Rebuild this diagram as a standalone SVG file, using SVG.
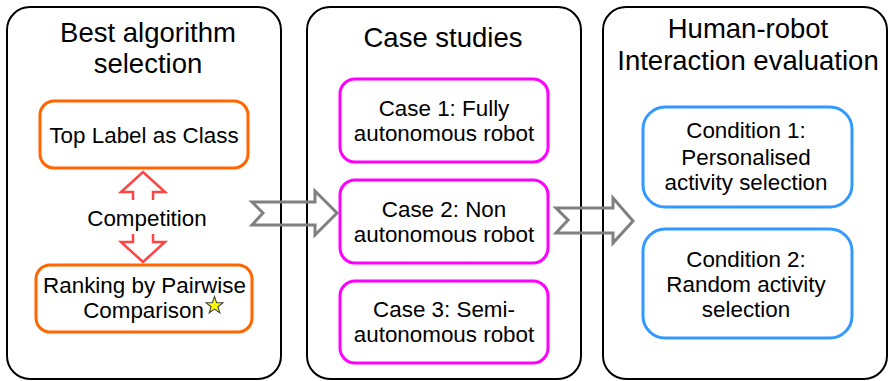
<svg xmlns="http://www.w3.org/2000/svg" width="889" height="381" viewBox="0 0 889 381">
<style>
text{font-family:"Liberation Sans",Arial,sans-serif;fill:#000;text-anchor:middle}
.title{font-size:27.5px}
.lbl{font-size:22.4px}
.panel{fill:#fff;stroke:#000;stroke-width:2}
.orange{fill:#fff;stroke:#ff6600;stroke-width:3}
.magenta{fill:#fff;stroke:#ff00ff;stroke-width:3}
.blue{fill:#fff;stroke:#3399ff;stroke-width:3}
.gray{fill:none;stroke:#808080;stroke-width:3;stroke-linejoin:miter}
.red{fill:none;stroke:#ff4444;stroke-width:2.5}
</style>
<rect width="889" height="381" fill="#fff"/>
<g id="panel-best">
<rect class="panel" x="7" y="7" width="274" height="372" rx="23"/>
<text class="title" x="148" y="42">Best algorithm</text>
<text class="title" x="148" y="73">selection</text>
</g>
<g id="panel-cases">
<rect class="panel" x="307" y="7" width="274" height="372" rx="23"/>
<text class="title" x="443" y="47">Case studies</text>
</g>
<g id="panel-hri">
<rect class="panel" x="603" y="7" width="284" height="372" rx="23"/>
<text class="title" x="748" y="38">Human-robot</text>
<text class="title" x="748" y="70">Interaction evaluation</text>
</g>
<g id="top-label">
<rect class="orange" x="40" y="101" width="208" height="67" rx="14"/>
<text class="lbl" x="144" y="143">Top Label as Class</text>
</g>
<g id="competition">
<text class="lbl" x="147" y="226">Competition</text>
</g>
<g id="ranking">
<rect class="orange" x="36" y="265" width="216" height="67" rx="14"/>
<text class="lbl" x="144.5" y="293">Ranking by Pairwise</text>
<text class="lbl" x="143.5" y="318">Comparison</text>
<polygon points="214.5,296.5 216.6,302.6 223,302.7 217.9,306.7 219.8,312.8 214.5,309.1 209.2,312.8 211.1,306.7 206,302.7 212.4,302.6" fill="#ffff00" stroke="#444" stroke-width="1.1"/>
</g>
<g id="case1">
<rect class="magenta" x="340" y="79" width="208" height="83" rx="15"/>
<text class="lbl" x="444" y="116">Case 1: Fully</text>
<text class="lbl" x="444" y="141">autonomous robot</text>
</g>
<g id="case2">
<rect class="magenta" x="340" y="180" width="208" height="83" rx="15"/>
<text class="lbl" x="444" y="217">Case 2: Non</text>
<text class="lbl" x="444" y="242">autonomous robot</text>
</g>
<g id="case3">
<rect class="magenta" x="340" y="281" width="208" height="82" rx="15"/>
<text class="lbl" x="444" y="317">Case 3: Semi-</text>
<text class="lbl" x="444" y="342">autonomous robot</text>
</g>
<g id="cond1">
<rect class="blue" x="643" y="107" width="209" height="100" rx="22"/>
<text class="lbl" x="746" y="138">Condition 1:</text>
<text class="lbl" x="746" y="165">Personalised</text>
<text class="lbl" x="746" y="190">activity selection</text>
</g>
<g id="cond2">
<rect class="blue" x="643" y="229" width="209" height="109" rx="22"/>
<text class="lbl" x="746" y="267">Condition 2:</text>
<text class="lbl" x="746" y="292">Random activity</text>
<text class="lbl" x="746" y="317">selection</text>
</g>
<g id="connectors">
<polygon class="gray" points="252,202 315,202 315,191 337,213 315,235 315,225 252,225 263,213"/>
<polygon class="gray" points="556,208 613,208 613,198 633,221 613,243 613,233 556,233 568,220"/>
<path class="red" d="M133,200 L133,192 L121,192 L143,172 L165,192 L153,192 L153,200"/>
<path class="red" d="M133,234 L133,242 L121,242 L143,262 L165,242 L153,242 L153,234"/>
</g>
</svg>
